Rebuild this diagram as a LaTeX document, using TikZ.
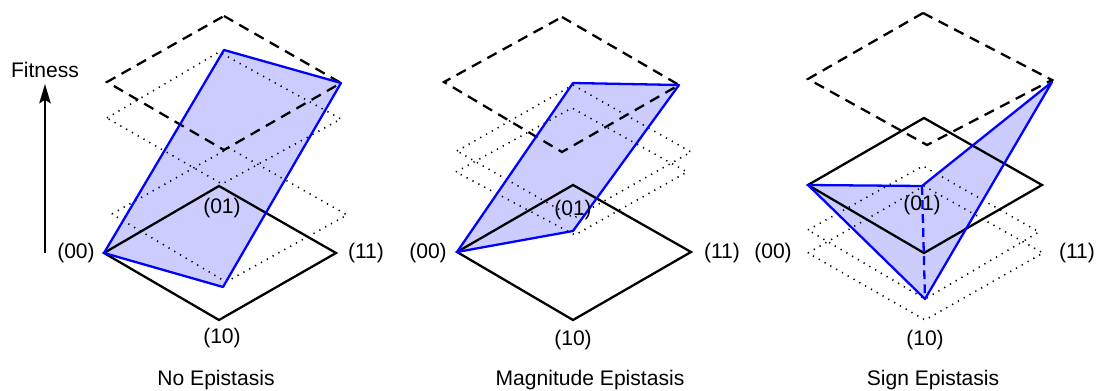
\documentclass[tikz,border=0pt]{standalone}
\usepackage{fontspec}
\setmainfont{Liberation Sans}
\usetikzlibrary{arrows.meta}
\definecolor{planeblue}{RGB}{204,204,255}
\tikzset{
  base/.style={line width=1.3pt},
  topplane/.style={line width=1.3pt, dash pattern=on 6pt off 4pt},
  level/.style={line width=0.9pt, dash pattern=on 0.7pt off 3.1pt},
  surface/.style={fill=planeblue},
  edge/.style={draw=blue, line width=1.3pt, line join=round},
  lbl/.style={font=\fontsize{12}{14}\selectfont}
}
\begin{document}
\begin{tikzpicture}[x=0.02cm,y=-0.02cm]
    \useasboundingbox (0,0) rectangle (1096,391);

    % fitness axis
    \node[lbl] (fit) at (45,70) {Fitness};
    \coordinate (F0) at (45,253);
    \coordinate (F1) at (45,84);
    \draw[line width=1.3pt,-{Stealth[length=11pt,width=6.5pt,inset=2pt]}] (F0)--(F1);

    % no epistasis
    \coordinate (A00) at (104,253);
    \coordinate (A01) at (219,186);
    \coordinate (A11) at (336,253);
    \coordinate (A10) at (219,320);
    \coordinate (P00) at (104,253);
    \coordinate (P10) at (223,287);
    \coordinate (P11) at (341,83);
    \coordinate (P01) at (224,50);

    \fill[surface] (P00)--(P10)--(P11)--(P01)--cycle;
    \draw[level] (107,118)--(219,52)--(341,119)--(222,184)--cycle;
    \draw[level] (112,214)--(229,148)--(347,215)--(226,282)--cycle;
    \draw[topplane] (224,16)--(341,83)--(224,150)--(107,82)--cycle;
    \draw[base] (A00)--(A01)--(A11)--(A10)--cycle;
    \draw[edge] (P00)--(P10)--(P11)--(P01)--cycle;

    \node[lbl] (a00) at (76,253) {(00)};
    \node[lbl] (a01) at (222,208) {(01)};
    \node[lbl] (a11) at (366,253) {(11)};
    \node[lbl] (a10) at (222,338) {(10)};
    \node[lbl] (ta) at (216,380) {No Epistasis};

    % magnitude epistasis
    \coordinate (B00) at (457,252);
    \coordinate (B01) at (573,185);
    \coordinate (B11) at (691,252);
    \coordinate (B10) at (573,320);
    \coordinate (Q00) at (457,252);
    \coordinate (Q10) at (573,231);
    \coordinate (Q11) at (679,85);
    \coordinate (Q01) at (573,83);

    \fill[surface] (Q00)--(Q10)--(Q11)--(Q01)--cycle;
    \draw[level] (457,151)--(573,85)--(691,152)--(574,218)--cycle;
    \draw[level] (456,172)--(572,108)--(687,172)--(575,235)--cycle;
    \draw[topplane] (562,17)--(679,85)--(562,152)--(444,82)--cycle;
    \draw[base] (B00)--(B01)--(B11)--(B10)--cycle;
    \draw[edge] (Q00)--(Q10)--(Q11)--(Q01)--cycle;

    \node[lbl] (b00) at (428,253) {(00)};
    \node[lbl] (b01) at (573,210) {(01)};
    \node[lbl] (b11) at (722,253) {(11)};
    \node[lbl] (b10) at (573,340) {(10)};
    \node[lbl] (tb) at (590,380) {Magnitude Epistasis};

    % sign epistasis
    \coordinate (C00) at (808,185);
    \coordinate (C01) at (924,118);
    \coordinate (C11) at (1042,185);
    \coordinate (C10) at (924,253);
    \coordinate (R00) at (808,185);
    \coordinate (R01) at (922,186);
    \coordinate (R11) at (1052,82);
    \coordinate (R10) at (925,299);

    \fill[surface] (R00)--(R01)--(R11)--(R10)--cycle;
    \draw[level] (808,230)--(923,166)--(1039,232)--(925,299)--cycle;
    \draw[level] (808,253)--(924,186)--(1043,253)--(925,320)--cycle;
    \draw[topplane] (923,13)--(1052,80)--(927,145)--(808,79)--cycle;
    \draw[base] (C00)--(C01)--(C11)--(C10)--cycle;
    \draw[edge] (R00)--(R01)--(R11)--(R10)--cycle;
    \draw[edge,dash pattern=on 5pt off 3pt] (R01)--(R10);

    \node[lbl] (c00) at (773,253) {(00)};
    \node[lbl] (c01) at (922,205) {(01)};
    \node[lbl] (c11) at (1077,253) {(11)};
    \node[lbl] (c10) at (925,340) {(10)};
    \node[lbl] (tc) at (933,380) {Sign Epistasis};
\end{tikzpicture}
\end{document}
